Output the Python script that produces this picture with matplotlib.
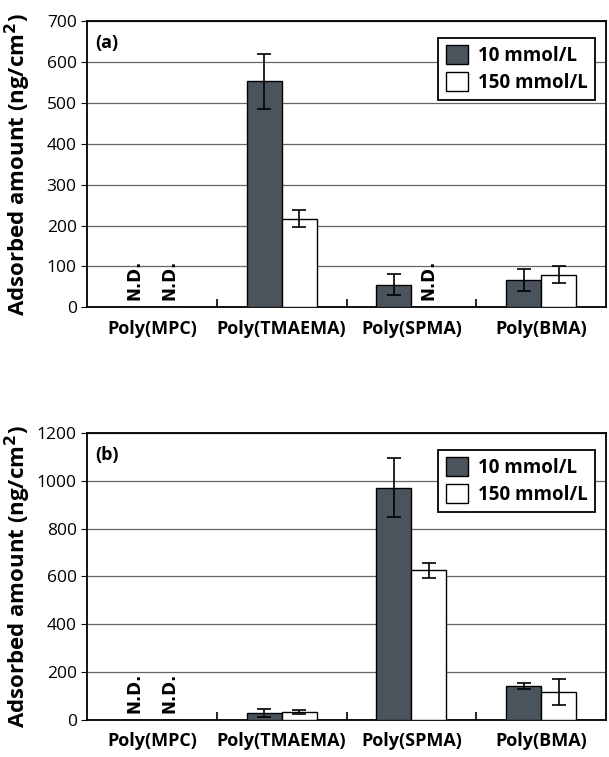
import numpy as np
import matplotlib.pyplot as plt

CATEGORIES = ["Poly(MPC)", "Poly(TMAEMA)", "Poly(SPMA)", "Poly(BMA)"]
SERIES = ["10 mmol/L", "150 mmol/L"]

# panel (a); np.nan = not detected
A_10 = [np.nan, 553, 55, 68]
A_10_ERR = [0, 67, 26, 27]
A_150 = [np.nan, 217, np.nan, 80]
A_150_ERR = [0, 20, 0, 20]

# panel (b)
B_10 = [np.nan, 30, 972, 142]
B_10_ERR = [0, 17, 123, 14]
B_150 = [np.nan, 33, 625, 118]
B_150_ERR = [0, 9, 30, 55]

DARK = "#4b545c"

plt.rcParams.update({
    "font.family": ["Open Sans", "DejaVu Sans"],
    "font.size": 12,
})


def panel(ax, v10, e10, v150, e150, ymax, step, label):
    x = np.arange(len(CATEGORIES))
    w = 0.27
    for vals, errs, off, color, name in [
        (v10, e10, -w / 2, DARK, SERIES[0]),
        (v150, e150, w / 2, "white", SERIES[1]),
    ]:
        vals = np.array(vals, dtype=float)
        ax.bar(x + off, np.nan_to_num(vals), w, color=color, edgecolor="black",
               linewidth=1.0, label=name, zorder=3)
        ok = ~np.isnan(vals)
        ax.errorbar(x[ok] + off, vals[ok], yerr=np.array(errs)[ok], fmt="none",
                    ecolor="black", elinewidth=1.2, capsize=5, capthick=1.2, zorder=4)
        for xi in x[~ok]:
            ax.text(xi + off, ymax * 0.025, "N.D.", rotation=90, ha="center",
                    va="bottom", fontsize=12, fontweight="bold", family="DejaVu Sans")

    ax.set_xlim(-0.5, len(CATEGORIES) - 0.5)
    ax.set_ylim(0, ymax)
    ax.set_yticks(np.arange(0, ymax + 1, step))
    ax.set_xticks(x)
    ax.set_xticklabels(CATEGORIES, fontweight="bold", fontsize=13)
    ax.set_xticks(x[:-1] + 0.5, minor=True)
    ax.tick_params(axis="x", which="major", length=0, pad=9)
    ax.tick_params(axis="x", which="minor", direction="in", length=6, width=1.2)
    ax.tick_params(axis="y", direction="out", length=4, labelsize=12.5)
    ax.grid(axis="y", color="#666666", linewidth=0.9)
    ax.set_axisbelow(True)
    for s in ax.spines.values():
        s.set_linewidth(1.3)
    ax.set_ylabel("Adsorbed amount (ng/cm$^{\\mathbf{2}}$)", fontweight="bold",
                  fontsize=16)
    ax.yaxis.set_label_coords(-0.104, 0.5)
    ax.text(0.015, 0.955, label, transform=ax.transAxes, fontsize=13,
            fontweight="bold", ha="left", va="top")
    ax.legend(loc="upper right", bbox_to_anchor=(0.997, 0.975), fancybox=False,
              edgecolor="black", framealpha=1, prop={"weight": "bold", "size": 13.5},
              handlelength=1.2, handleheight=1.2, handletextpad=0.5,
              labelspacing=0.3, borderpad=0.4).get_frame().set_linewidth(1.3)


fig = plt.figure(figsize=(6.09, 7.57), dpi=100)
ax1 = fig.add_axes([0.143, 0.594, 0.852, 0.378])
ax2 = fig.add_axes([0.143, 0.049, 0.852, 0.379])

panel(ax1, A_10, A_10_ERR, A_150, A_150_ERR, 700, 100, "(a)")
panel(ax2, B_10, B_10_ERR, B_150, B_150_ERR, 1200, 200, "(b)")

fig.savefig("out.png", dpi=100)
